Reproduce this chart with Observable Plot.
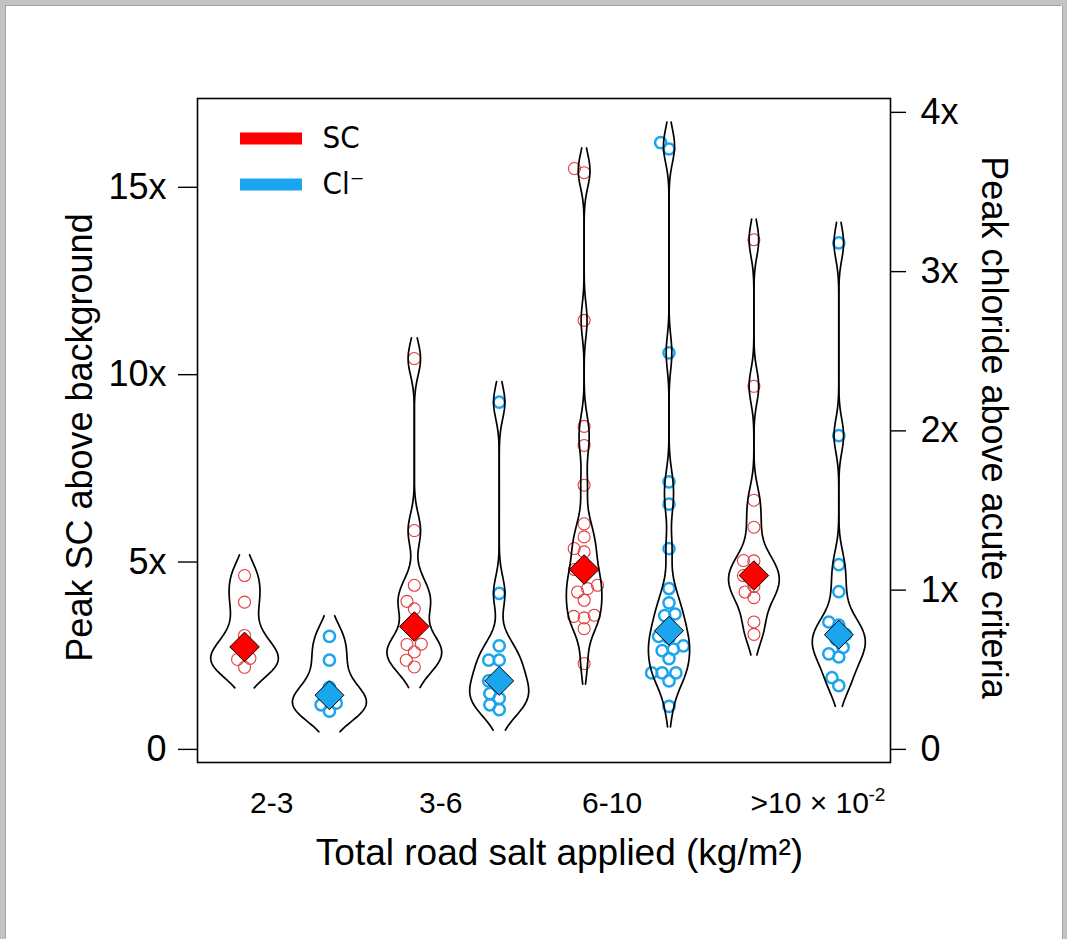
<!DOCTYPE html>
<html><head><meta charset="utf-8">
<script src="https://cdn.jsdelivr.net/npm/d3@7"></script>
<script src="https://cdn.jsdelivr.net/npm/@observablehq/plot@0.6"></script>
<style>
html,body{margin:0;padding:0;background:#fff;}
#page{position:relative;width:1067px;height:939px;background:#c3c3c3;overflow:hidden;}
#sheet{position:absolute;left:6px;top:6px;width:1056px;height:933px;background:#fff;box-shadow:-1px -1px 0 #a2a2a2,1px 0 0 #a2a2a2;}
#sheet svg{display:block;background:transparent;}
</style></head><body>
<div id="page"><div id="sheet"></div></div>
<script>
// ---- data ----
const categories = ["2-3", "3-6", "6-10", ">10"];
// Peak SC above background (x)
const sc23  = [4.64, 3.93, 3.04, 2.43, 2.40, 2.19];
const sc36  = [10.43, 5.84, 4.38, 3.95, 3.75, 2.81, 2.80, 2.60, 2.38, 2.20];
const sc610 = [15.50, 15.39, 11.45, 8.62, 8.11, 7.05, 6.02, 5.67, 5.36, 5.27, 4.80, 4.69, 4.38, 4.29, 4.20, 3.98, 3.58, 3.55, 3.51, 3.22, 2.29];
const sc10  = [13.60, 9.69, 6.65, 5.93, 5.04, 5.03, 4.64, 4.64, 4.35, 4.20, 4.05, 3.40, 3.07];
// Peak chloride above acute criteria (x)
const cl23  = [0.71, 0.56, 0.39, 0.29, 0.28, 0.24];
const cl36  = [2.18, 0.98, 0.65, 0.56, 0.56, 0.43, 0.43, 0.35, 0.32, 0.28, 0.25];
const cl610 = [3.81, 3.77, 2.49, 1.68, 1.54, 1.26, 1.01, 0.92, 0.85, 0.84, 0.78, 0.71, 0.70, 0.65, 0.63, 0.62, 0.57, 0.48, 0.48, 0.48, 0.43, 0.27];
const cl10  = [3.18, 1.97, 1.16, 0.99, 0.80, 0.78, 0.72, 0.69, 0.64, 0.60, 0.58, 0.45, 0.40];
const leftTicks = [0, 5, 10, 15];
const leftTickLabels = ["0", "5x", "10x", "15x"];
const rightTicks = [0, 1, 2, 3, 4];
const rightTickLabels = ["0", "1x", "2x", "3x", "4x"];
const clToSc = 4.25; // one unit of the right axis in units of the left axis
const seriesNames = ["SC", "Cl\u207B"];

// ---- layout ----
const W = 1056, H = 933, mL = 191, mR = 172, mT = 92, mB = 177;
const xDomain = [0.446, 8.609], yDomain = [-0.35, 17.37];
const red = "#ff0000", redLine = "#e33b3b", blue = "#1ba5ee";
const font = "'Liberation Sans', Arial, Helvetica, sans-serif";
const narrow = "'Liberation Sans Narrow', 'DejaVu Sans Condensed', 'Liberation Sans', sans-serif";

let yScale;
try { yScale = Plot.scale({y: {domain: yDomain, range: [H - mB, mT]}}); } catch (e) { yScale = null; }
const yPx = yScale ? (v => yScale.apply(v)) : d3.scaleLinear(yDomain, [H - mB, mT]);
const pxPerX = (W - mL - mR) / (xDomain[1] - xDomain[0]);
const pxPerY = (H - mT - mB) / (yDomain[1] - yDomain[0]);
const xAt = px => xDomain[0] + (px - mL) / pxPerX;   // svg px -> x data
const yAt = py => yDomain[1] - (py - mT) / pxPerY;   // svg px -> y data

// beeswarm offsets (px) so circles don't pile up
function swarm(values, d) {
  const order = values.map((v, i) => i).sort((a, b) => values[a] - values[b]);
  const placed = [], off = new Array(values.length);
  for (const i of order) {
    const y = yPx(values[i]);
    const cands = [0];
    for (const p of placed) {
      const dy = Math.abs(p.y - y);
      if (dy < d) { const dx = Math.sqrt(d * d - dy * dy); cands.push(p.x - dx, p.x + dx); }
    }
    cands.sort((a, b) => Math.abs(a) - Math.abs(b) || a - b);
    let best = 0;
    for (const c of cands) {
      if (placed.every(p => Math.hypot(p.x - c, p.y - y) >= d - 1e-6)) { best = c; break; }
    }
    placed.push({x: best, y}); off[i] = best;
  }
  return off;
}

// kernel density for the violins
const bw = 0.45, ext = 0.55, K = 70;
const gauss = z => Math.exp(-0.5 * z * z) / Math.sqrt(2 * Math.PI);
function violin(vals, pos, key) {
  const lo = d3.min(vals) - ext, hi = d3.max(vals) + ext, n = 160, out = [];
  for (let k = 0; k <= n; k++) {
    const y = lo + (hi - lo) * k / n;
    const dens = d3.mean(vals, v => gauss((y - v) / bw)) / bw;
    const hw = dens * K / pxPerX;
    out.push({key: key + "L", x: pos - hw, y});
    out.push({key: key + "R", x: pos + hw, y});
  }
  return out;
}

const scSets = [sc23, sc36, sc610, sc10];
const clSets = [cl23, cl36, cl610, cl10];
const pts = [], lines = [], meds = [];
categories.forEach((c, g) => {
  const sets = [scSets[g], clSets[g].map(v => v * clToSc)];
  sets.forEach((vals, s) => {
    const pos = 1 + 2 * g + s;
    const off = swarm(vals, 10.5);
    vals.forEach((v, i) => pts.push({series: s, x: pos + off[i] / pxPerX, y: v}));
    lines.push(...violin(vals, pos, c + s));
    meds.push({series: s, x: pos, y: d3.median(vals)});
  });
});

const diamond = {draw(ctx, size) { const r = Math.sqrt(size) * 0.62625; ctx.moveTo(0, -r); ctx.lineTo(r, 0); ctx.lineTo(0, r); ctx.lineTo(-r, 0); ctx.closePath(); }};

const catLabelX = [1.32, 3.31, 5.33];
const chart = Plot.plot({
  width: W, height: H,
  marginLeft: mL, marginRight: mR, marginTop: mT, marginBottom: mB,
  style: {background: "transparent", fontFamily: font, overflow: "visible"},
  x: {domain: xDomain, axis: null},
  y: {domain: yDomain, axis: null},
  marks: [
    // points
    Plot.dot(pts.filter(d => d.series === 0), {x: "x", y: "y", r: 6, stroke: redLine, strokeWidth: 1.1, fill: "none"}),
    Plot.dot(pts.filter(d => d.series === 1), {x: "x", y: "y", r: 5.6, stroke: blue, strokeWidth: 2.5, fill: "none"}),
    // violins
    Plot.line(lines, {x: "x", y: "y", z: "key", stroke: "black", strokeWidth: 1.7}),
    // medians
    Plot.dot(meds.filter(d => d.series === 0), {x: "x", y: "y", symbol: diamond, r: 13.3, fill: red, stroke: "black", strokeWidth: 1}),
    Plot.dot(meds.filter(d => d.series === 1), {x: "x", y: "y", symbol: diamond, r: 13.0, fill: blue, stroke: "black", strokeWidth: 1}),
    // frame
    Plot.frame({stroke: "black", strokeWidth: 1.6}),
    // left axis
    Plot.ruleY(leftTicks, {y: d => d, x1: xAt(mL - 19), x2: xDomain[0], stroke: "black", strokeWidth: 1.4}),
    Plot.text(leftTicks, {y: d => d, x: xDomain[0], dx: -31, text: (d, i) => leftTickLabels[i], textAnchor: "end", fontSize: 36, fill: "black"}),
    // right axis
    Plot.ruleY(rightTicks, {y: d => d * clToSc, x1: xDomain[1], x2: xAt(W - mR + 16), stroke: "black", strokeWidth: 1.4}),
    Plot.text(rightTicks, {y: d => d * clToSc, x: xDomain[1], dx: 30, text: (d, i) => rightTickLabels[i], textAnchor: "start", fontSize: 36, fill: "black"}),
    // x category labels
    Plot.text(categories.slice(0, 3), {x: (d, i) => catLabelX[i], y: yDomain[0], dy: 41, text: d => d, fontSize: 30, fill: "black"}),
    Plot.text([categories[3] + " \u00D7 10"], {x: xAt(750 - 6), y: yDomain[0], dy: 41, text: d => d, textAnchor: "start", fontSize: 30, fill: "black"}),
    Plot.text(["-2"], {x: xAt(868 - 6), y: yDomain[0], dy: 32, text: d => d, textAnchor: "start", fontSize: 19, fill: "black"}),
    // axis titles
    Plot.text(["Total road salt applied (kg/m\u00B2)"], {x: xAt(559 - 6), y: yDomain[0], dy: 91, text: d => d, textAnchor: "middle", fontSize: 37, fill: "black"}),
    Plot.text(["Peak SC above background"], {x: xDomain[0], y: yAt(437 - 6), dx: -117, rotate: -90, text: d => d, textAnchor: "middle", fontSize: 36, fill: "black"}),
    Plot.text(["Peak chloride above acute criteria"], {x: xDomain[1], y: yAt(427 - 6), dx: 103, rotate: 90, text: d => d, textAnchor: "middle", fontSize: 36, fill: "black"}),
    // legend
    Plot.ruleY([0, 1], {y: i => yAt([132, 178][i]), x1: xAt(234), x2: xAt(296), stroke: i => [red, blue][i], strokeWidth: 12}),
    Plot.text([0, 1], {y: i => yAt([132, 178][i]), x: xAt(316), text: i => seriesNames[i], textAnchor: "start", fontSize: 31, fontFamily: narrow, fill: "black"})
  ]
});
document.getElementById("sheet").appendChild(chart);
</script>
</body></html>
